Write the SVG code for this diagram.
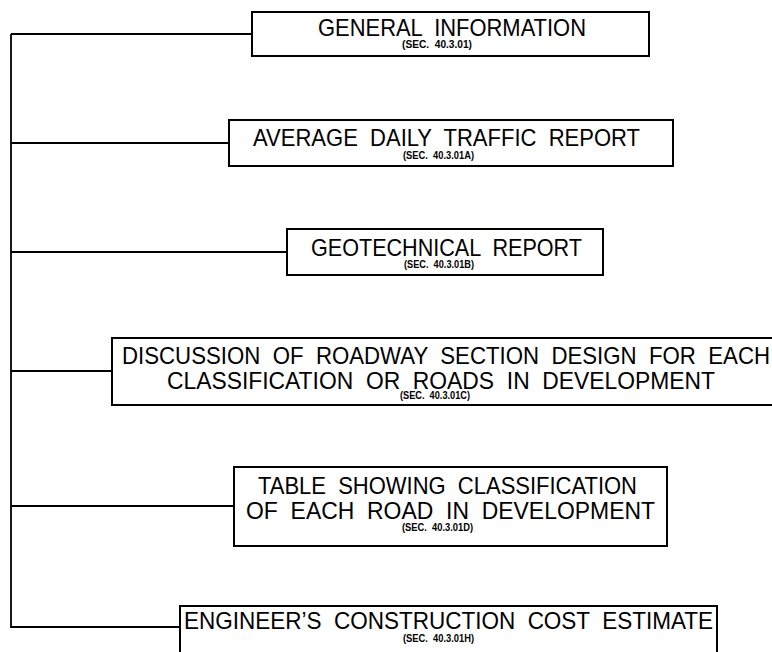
<svg xmlns="http://www.w3.org/2000/svg" width="772" height="652" viewBox="0 0 772 652">
<style>
.box{fill:#fff;stroke:#000;stroke-width:2}
.conn{fill:none;stroke:#000;stroke-width:1.8}
.t{font-family:"Liberation Sans",Arial,sans-serif;font-size:24px;fill:#000;white-space:pre}
.s{font-family:"Liberation Sans",Arial,sans-serif;font-size:10px;font-weight:bold;fill:#000;white-space:pre}
</style>
<rect width="772" height="652" fill="#fff"/>
<g id="connectors">
<path class="conn" d="M11 34V628M11 34H252M11 143H229M11 252H287M11 371H112M11 506H234M11 627H180"/>
</g>
<g id="n1">
<rect class="box" x="252" y="12" width="397" height="44"/>
<text class="t" x="318" y="36" textLength="268" lengthAdjust="spacingAndGlyphs" xml:space="preserve">GENERAL  INFORMATION</text>
<text class="s" x="402" y="48" textLength="70" lengthAdjust="spacingAndGlyphs" xml:space="preserve">(SEC.  40.3.01)</text>
</g>
<g id="n2">
<rect class="box" x="229" y="120" width="444" height="46"/>
<text class="t" x="253" y="146" textLength="387" lengthAdjust="spacingAndGlyphs" xml:space="preserve">AVERAGE  DAILY  TRAFFIC  REPORT</text>
<text class="s" x="403" y="159" textLength="71" lengthAdjust="spacingAndGlyphs" xml:space="preserve">(SEC.  40.3.01A)</text>
</g>
<g id="n3">
<rect class="box" x="287" y="229" width="316" height="46"/>
<text class="t" x="311" y="256" textLength="271" lengthAdjust="spacingAndGlyphs" xml:space="preserve">GEOTECHNICAL  REPORT</text>
<text class="s" x="404" y="268" textLength="70" lengthAdjust="spacingAndGlyphs" xml:space="preserve">(SEC.  40.3.01B)</text>
</g>
<g id="n4">
<rect class="box" x="112" y="338" width="680" height="67"/>
<text class="t" x="122" y="364" textLength="648" lengthAdjust="spacingAndGlyphs" xml:space="preserve">DISCUSSION  OF  ROADWAY  SECTION  DESIGN  FOR  EACH</text>
<text class="t" x="167" y="389" textLength="548" lengthAdjust="spacingAndGlyphs" xml:space="preserve">CLASSIFICATION  OR  ROADS  IN  DEVELOPMENT</text>
<text class="s" x="400" y="399" textLength="70" lengthAdjust="spacingAndGlyphs" xml:space="preserve">(SEC.  40.3.01C)</text>
</g>
<g id="n5">
<rect class="box" x="234" y="467" width="433" height="79"/>
<text class="t" x="258" y="494" textLength="379" lengthAdjust="spacingAndGlyphs" xml:space="preserve">TABLE  SHOWING  CLASSIFICATION</text>
<text class="t" x="246" y="519" textLength="409" lengthAdjust="spacingAndGlyphs" xml:space="preserve">OF  EACH  ROAD  IN  DEVELOPMENT</text>
<text class="s" x="402" y="531" textLength="71" lengthAdjust="spacingAndGlyphs" xml:space="preserve">(SEC.  40.3.01D)</text>
</g>
<g id="n6">
<rect class="box" x="180" y="606" width="537" height="60"/>
<text class="t" x="184" y="629" textLength="529" lengthAdjust="spacingAndGlyphs" xml:space="preserve">ENGINEER’S  CONSTRUCTION  COST  ESTIMATE</text>
<text class="s" x="403" y="642" textLength="71" lengthAdjust="spacingAndGlyphs" xml:space="preserve">(SEC.  40.3.01H)</text>
</g>
</svg>
